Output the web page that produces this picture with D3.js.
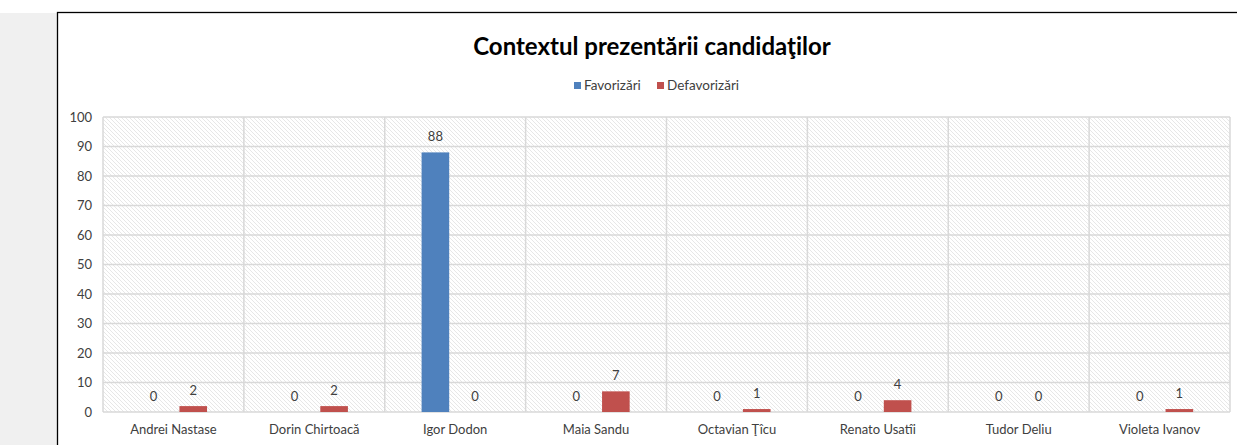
<!DOCTYPE html>
<meta charset="utf-8">
<title>Contextul prezentării candidaţilor</title>
<style>
  body { margin: 0; background: #fff; font-family: Lato, "Open Sans", sans-serif; }
  svg { display: block; }
</style>
<body>
<script src="https://d3js.org/d3.v7.min.js"></script>
<script>

const candidates = ["Andrei Nastase", "Dorin Chirtoacă", "Igor Dodon", "Maia Sandu",
  "Octavian Ţîcu", "Renato Usatîi", "Tudor Deliu", "Violeta Ivanov"];
const favorizari = [0, 0, 88, 0, 0, 0, 0, 0];
const defavorizari = [2, 2, 0, 7, 1, 4, 0, 1];
const seriesNames = ["Favorizări", "Defavorizări"];
const seriesColors = ["#4f81bd", "#c0504d"];
const yTicks = [0, 10, 20, 30, 40, 50, 60, 70, 80, 90, 100];

const width = 1237, height = 445;
const plot = { left: 103, right: 1230, top: 117, bottom: 412 };

const svg = d3.select("body").append("svg")
    .attr("width", width)
    .attr("height", height);

// hatch pattern for the plot background
const defs = svg.append("defs");
defs.append("pattern")
    .attr("id", "hatch")
    .attr("patternUnits", "userSpaceOnUse")
    .attr("width", 4).attr("height", 4)
  .append("path")
    .attr("d", "M-1,-1 L5,5 M-1,3 L1,5 M3,-1 L5,1")
    .attr("stroke", "#dcdcdc")
    .attr("stroke-width", 0.7);

// grey side panel + chart frame
svg.append("rect").attr("x", 0).attr("y", 13).attr("width", 57).attr("height", height)
    .attr("fill", "#f0f0f0");
svg.append("rect").attr("x", 57.5).attr("y", 12.5).attr("width", width + 10).attr("height", height)
    .attr("fill", "#fff").attr("stroke", "#000").attr("stroke-width", 1.3);

const x = d3.scaleBand().domain(candidates).range([plot.left, plot.right]).padding(0);
const y = d3.scaleLinear().domain([0, 100]).range([plot.bottom, plot.top]);

svg.append("rect")
    .attr("x", plot.left).attr("y", plot.top)
    .attr("width", plot.right - plot.left).attr("height", plot.bottom - plot.top)
    .attr("fill", "url(#hatch)");

// gridlines
const grid = svg.append("g").attr("stroke", "#d9d9d9").attr("stroke-width", 1.5);
grid.selectAll("line.h").data(yTicks).join("line")
    .attr("class", "h")
    .attr("x1", plot.left).attr("x2", plot.right)
    .attr("y1", d => y(d)).attr("y2", d => y(d));
grid.selectAll("line.v").data(candidates.concat([null])).join("line")
    .attr("class", "v")
    .attr("x1", (d, i) => plot.left + i * x.step()).attr("x2", (d, i) => plot.left + i * x.step())
    .attr("y1", plot.top).attr("y2", plot.bottom);

// y axis
const yAxis = svg.append("g")
    .attr("transform", `translate(${plot.left},0)`)
    .call(d3.axisLeft(y).tickValues(yTicks).tickSize(0).tickPadding(11));
yAxis.select(".domain").remove();
yAxis.selectAll("text").attr("font-size", 13).attr("fill", "#404040")
    .attr("font-family", "Lato, sans-serif");

// x axis
const xAxis = svg.append("g")
    .attr("transform", `translate(0,${plot.bottom})`)
    .call(d3.axisBottom(x).tickSize(0).tickPadding(13));
xAxis.select(".domain").remove();
xAxis.selectAll("text").attr("font-size", 13).attr("fill", "#404040")
    .attr("font-family", "Lato, sans-serif");

// bars
const barW = x.step() * 0.196;
const gap = x.step() * 0.085;
const series = [favorizari, defavorizari];
series.forEach((vals, s) => {
  const off = s === 0 ? -gap / 2 - barW : gap / 2;
  const g = svg.append("g");
  g.selectAll("rect").data(vals).join("rect")
      .attr("x", (d, i) => x(candidates[i]) + x.bandwidth() / 2 + off)
      .attr("y", d => y(d))
      .attr("width", barW)
      .attr("height", d => y(0) - y(d))
      .attr("fill", seriesColors[s]);
  g.selectAll("text").data(vals).join("text")
      .attr("x", (d, i) => x(candidates[i]) + x.bandwidth() / 2 + off + barW / 2)
      .attr("y", d => y(d) - 11)
      .attr("text-anchor", "middle")
      .attr("font-size", 13)
      .attr("fill", "#404040")
      .text(d => d);
});

// title
svg.append("text")
    .attr("x", 652).attr("y", 55)
    .attr("text-anchor", "middle")
    .attr("font-size", 24).attr("font-weight", "bold")
    .attr("fill", "#000")
    .text("Contextul prezentării candidaţilor");

// legend
const legend = svg.append("g").attr("transform", "translate(574,82)");
const legendX = [0, 83];
seriesNames.forEach((name, i) => {
  legend.append("rect").attr("x", legendX[i]).attr("y", 0).attr("width", 7).attr("height", 7)
      .attr("fill", seriesColors[i]);
  legend.append("text").attr("x", legendX[i] + 10).attr("y", 8)
      .attr("font-size", 13.5).attr("fill", "#404040")
      .text(name);
});

</script>
